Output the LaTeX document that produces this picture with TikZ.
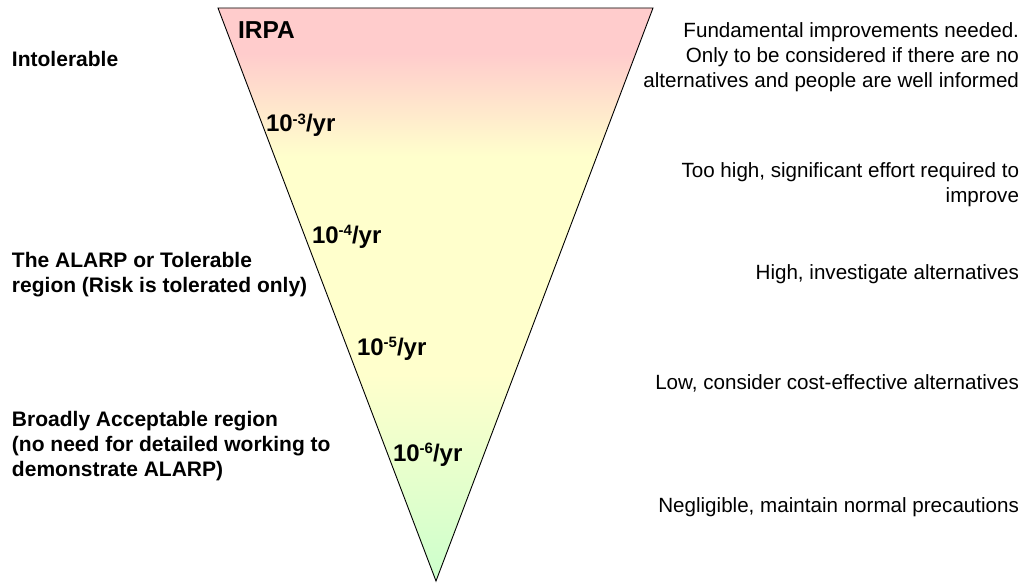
\documentclass[tikz,border=0pt]{standalone}
\usepackage{fontspec}
\setmainfont{Liberation Sans}
\definecolor{pk}{RGB}{255,204,204}
\definecolor{ye}{RGB}{255,255,204}
\definecolor{gr}{RGB}{204,255,204}
\pgfdeclareverticalshading{riskshade}{100bp}{color(0bp)=(gr); color(25bp)=(gr); color(43bp)=(ye); color(62bp)=(ye); color(71bp)=(pk); color(100bp)=(pk)}
\newcommand{\expo}[1]{10\raisebox{0.33em}{\fontsize{15}{15}\selectfont #1}/yr}
\begin{document}
\begin{tikzpicture}[x=1pt,y=-1pt,
  every node/.style={inner sep=0pt,outer sep=0pt},
  lefttext/.style={anchor=base west,font=\fontsize{21}{25}\selectfont\bfseries},
  righttext/.style={anchor=base east,font=\fontsize{20.6}{25}\selectfont},
  ratetext/.style={anchor=base west,font=\fontsize{24}{28}\selectfont\bfseries}]
\useasboundingbox (0,0) rectangle (1026,583);
\coordinate (tl) at (218,8);
\coordinate (tr) at (653,8);
\coordinate (ap) at (436,581);
\draw[line width=0.9pt,shading=riskshade] (tl) -- (tr) -- (ap) -- cycle;
% triangle labels
\node[ratetext,font=\fontsize{24.5}{28}\selectfont\bfseries] (irpa) at (238,39) {IRPA};
\node[ratetext] (r3) at (266,132) {\expo{-3}};
\node[ratetext] (r4) at (312,243) {\expo{-4}};
\node[ratetext] (r5) at (357,355) {\expo{-5}};
\node[ratetext] (r6) at (393,461) {\expo{-6}};
% left labels
\node[lefttext] (l1) at (12,67) {Intolerable};
\node[lefttext] (l2a) at (12,267) {The ALARP or Tolerable};
\node[lefttext] (l2b) at (12,292) {region (Risk is tolerated only)};
\node[lefttext] (l3a) at (12,426) {Broadly Acceptable region};
\node[lefttext] (l3b) at (12,451) {(no need for detailed working to};
\node[lefttext] (l3c) at (12,476) {demonstrate ALARP)};
% right labels
\node[righttext] (d1a) at (1019,38) {Fundamental improvements needed.};
\node[righttext] (d1b) at (1019,63) {Only to be considered if there are no};
\node[righttext] (d1c) at (1019,88) {alternatives and people are well informed};
\node[righttext] (d2a) at (1019,178) {Too high, significant effort required to};
\node[righttext] (d2b) at (1019,203) {improve};
\node[righttext] (d3) at (1019,279) {High, investigate alternatives};
\node[righttext] (d4) at (1019,389) {Low, consider cost-effective alternatives};
\node[righttext] (d5) at (1019,512) {Negligible, maintain normal precautions};
\end{tikzpicture}
\end{document}
